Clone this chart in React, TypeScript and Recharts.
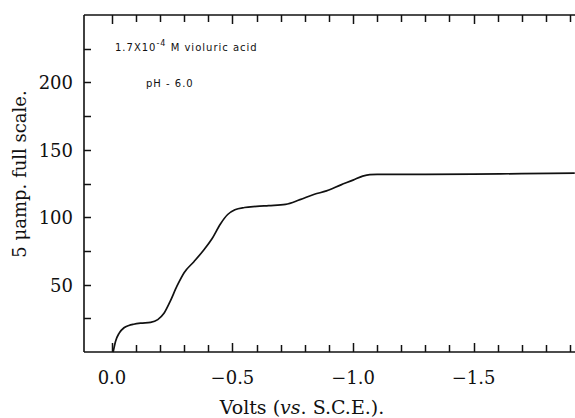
import { LineChart, Line, XAxis, YAxis, Customized } from 'recharts'

// polarogram, 1.7e-4 M violuric acid, pH 6.0
const volts = [-0.005, -0.015, -0.03, -0.05, -0.07, -0.09, -0.12, -0.16, -0.19, -0.215, -0.24, -0.27, -0.3, -0.34, -0.38, -0.415, -0.45, -0.48, -0.51, -0.55, -0.6, -0.65, -0.72, -0.78, -0.84, -0.89, -0.95, -1.0, -1.04, -1.07, -1.1, -1.3, -1.5, -1.7, -1.92]
const current = [0, 8, 14, 18, 19.7, 20.6, 21.4, 22, 24, 28.5, 37, 49, 59, 67, 75.5, 84, 95, 102, 105.5, 107.2, 108, 108.6, 109.5, 113, 117, 119.5, 124, 127.5, 130.5, 131.6, 131.7, 131.8, 132, 132.3, 132.7]

const xTicks = [0, -0.1, -0.2, -0.3, -0.4, -0.5, -0.6, -0.7, -0.8, -0.9, -1.0, -1.1, -1.2, -1.3, -1.4, -1.5, -1.6, -1.7, -1.8, -1.9]
const xLabels = [0, -0.5, -1.0, -1.5]
const yTicks = [25, 50, 75, 100, 125, 150, 175, 200, 225]
const yLabels = [50, 100, 150, 200]

const data = volts.map((v, i) => ({ v, i: current[i] }))

const serif = '"DejaVu Serif", "Liberation Serif", serif'
const sans = '"DejaVu Sans", sans-serif'
const ink = '#111'
const isMajor = (list: number[], val: number) => list.some((m) => Math.abs(m - val) < 1e-6)
const fmtX = (v: number) => (Math.abs(v) < 1e-6 ? '0.0' : '\u2212' + Math.abs(v).toFixed(1))

// ticks point into the plot, like the original figure
function BottomTick({ x, y, payload }: any) {
  const major = isMajor(xLabels, payload.value)
  const px = Math.round(x) + 0.5
  return (
    <g>
      <path d={`M${px},${y}V${y - (major ? 9 : 7)}`} stroke={ink} strokeWidth={1.5} />
      {major && (
        <text x={x} y={y + 32} textAnchor="middle" fontFamily={serif} fontSize={18} fill={ink}>
          {fmtX(payload.value)}
        </text>
      )}
    </g>
  )
}

function TopTick({ x, y, payload }: any) {
  const major = isMajor(xLabels, payload.value)
  const px = Math.round(x) + 0.5
  return <path d={`M${px},${y}V${y + (major ? 9 : 7)}`} stroke={ink} strokeWidth={1.5} />
}

function LeftTick({ x, y, payload }: any) {
  const major = isMajor(yLabels, payload.value)
  const py = Math.round(y) + 0.5
  return (
    <g>
      <path d={`M${x},${py}H${x + 7}`} stroke={ink} strokeWidth={1.5} />
      {major && (
        <text x={x - 11} y={y + 7} textAnchor="end" fontFamily={serif} fontSize={18} fill={ink}>
          {payload.value}
        </text>
      )}
    </g>
  )
}

function Notes() {
  return (
    <g fill={ink}>
      <text x={115} y={51} fontFamily={sans} fontSize={10} letterSpacing={1}>
        1.7X10
        <tspan dy={-5} fontSize={8}>-4</tspan>
        <tspan dy={5}> M violuric acid</tspan>
      </text>
      <text x={146} y={87} fontFamily={sans} fontSize={10} letterSpacing={1}>
        pH - 6.0
      </text>
      <text x={26} y={174} transform="rotate(-90 26 174)" textAnchor="middle" fontFamily={serif} fontSize={18}>
        5 μamp. full scale.
      </text>
      <text x={302} y={414} textAnchor="middle" fontFamily={serif} fontSize={19}>
        Volts (<tspan fontStyle="italic">vs</tspan>. S.C.E.).
      </text>
    </g>
  )
}

export default function App() {
  return (
    <div style={{ position: 'absolute', left: 0, top: 0, width: 575, height: 418, background: '#fff' }}>
      <LineChart width={575} height={418} data={data} margin={{ top: 13, right: 0, bottom: 0, left: 0 }}>
        <XAxis
          xAxisId="bottom"
          dataKey="v"
          type="number"
          domain={[-1.921, 0.116]}
          reversed
          ticks={xTicks}
          interval={0}
          height={66}
          tickSize={0}
          tickMargin={0}
          tickLine={false}
          tick={<BottomTick />}
          axisLine={{ stroke: ink, strokeWidth: 1.6 }}
          allowDataOverflow
        />
        <XAxis
          xAxisId="top"
          orientation="top"
          dataKey="v"
          type="number"
          domain={[-1.921, 0.116]}
          reversed
          ticks={xTicks}
          interval={0}
          height={2}
          tickSize={0}
          tickMargin={0}
          tickLine={false}
          tick={<TopTick />}
          axisLine={{ stroke: ink, strokeWidth: 1.6 }}
          allowDataOverflow
        />
        <YAxis
          dataKey="i"
          type="number"
          domain={[0, 250]}
          ticks={yTicks}
          interval={0}
          width={84}
          tickSize={0}
          tickMargin={0}
          tickLine={false}
          tick={<LeftTick />}
          axisLine={{ stroke: ink, strokeWidth: 1.6 }}
        />
        <Line
          xAxisId="bottom"
          dataKey="i"
          type="monotone"
          stroke={ink}
          strokeWidth={1.7}
          dot={false}
          isAnimationActive={false}
        />
        <Customized component={Notes} />
      </LineChart>
    </div>
  )
}
